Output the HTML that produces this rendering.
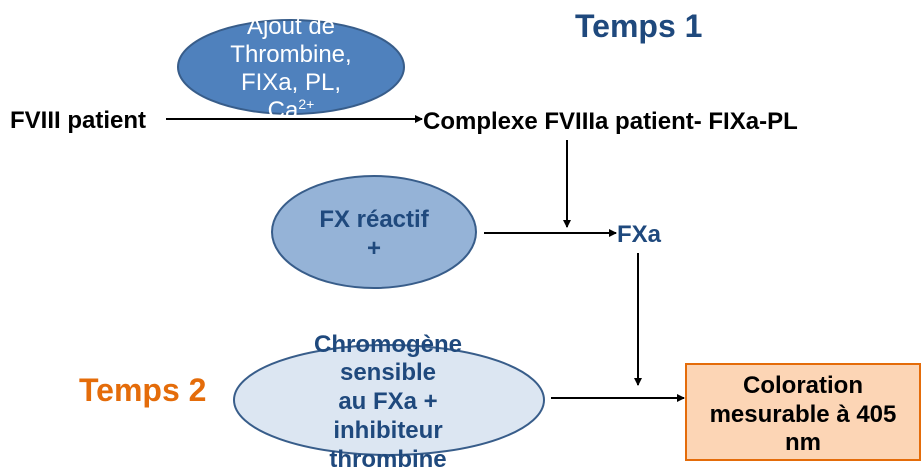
<!DOCTYPE html>
<html><head><meta charset="utf-8"><style>
html,body{margin:0;padding:0;background:#fff;}
svg{display:block;font-family:"Liberation Sans",sans-serif;}
</style></head><body>
<svg width="922" height="467" viewBox="0 0 922 467">
<defs>
<marker id="ah" markerWidth="8" markerHeight="8" refX="7" refY="4" orient="auto" markerUnits="userSpaceOnUse"><path d="M0,0 L8,4 L0,8 z" fill="#000"/></marker>
<clipPath id="c1"><rect x="170" y="10" width="250" height="108"/></clipPath>
</defs>
<g><text x="575" y="37" font-size="32" font-weight="bold" fill="#1f497d">Temps 1</text></g>
<g>
<ellipse cx="291" cy="67" rx="113" ry="47" fill="#4f81bd" stroke="#385d8a" stroke-width="2"/>
<g clip-path="url(#c1)" fill="#fff" font-size="24" text-anchor="middle">
<text x="291" y="34">Ajout de</text><text x="291" y="62">Thrombine,</text><text x="291" y="90">FIXa, PL,</text><text x="291" y="118">Ca<tspan font-size="14" dy="-9">2+</tspan></text>
</g></g>
<text x="10" y="128" font-size="24" font-weight="bold">FVIII patient</text>
<line x1="166" y1="119" x2="422" y2="119" stroke="#000" stroke-width="2" marker-end="url(#ah)"/>
<text x="423" y="129" font-size="24" font-weight="bold">Complexe FVIIIa patient- FIXa-PL</text>
<line x1="567" y1="140" x2="567" y2="227" stroke="#000" stroke-width="2" marker-end="url(#ah)"/>
<g>
<ellipse cx="374" cy="232" rx="102" ry="56" fill="#95b3d7" stroke="#385d8a" stroke-width="2"/>
<text x="374" y="227" font-size="24" font-weight="bold" fill="#1f497d" text-anchor="middle">FX réactif</text>
<text x="374" y="256" font-size="24" font-weight="bold" fill="#1f497d" text-anchor="middle">+</text>
</g>
<line x1="484" y1="233" x2="616" y2="233" stroke="#000" stroke-width="2" marker-end="url(#ah)"/>
<text x="617" y="242" font-size="24" font-weight="bold" fill="#1f497d">FXa</text>
<line x1="638" y1="253" x2="638" y2="385" stroke="#000" stroke-width="2" marker-end="url(#ah)"/>
<text x="79" y="401" font-size="32" font-weight="bold" fill="#e46c0a">Temps 2</text>
<g>
<ellipse cx="389" cy="400" rx="155" ry="55" fill="#dce6f2" stroke="#385d8a" stroke-width="2"/>
<g font-size="24" font-weight="bold" fill="#1f497d" text-anchor="middle">
<text x="388" y="352">Chromogène</text><text x="388" y="380">sensible</text><text x="388" y="409">au FXa  +</text><text x="388" y="438">inhibiteur</text><text x="388" y="467">thrombine</text>
</g></g>
<line x1="551" y1="398" x2="684" y2="398" stroke="#000" stroke-width="2" marker-end="url(#ah)"/>
<g>
<rect x="686" y="364" width="234" height="96" fill="#fcd5b5" stroke="#e46c0a" stroke-width="2"/>
<g font-size="24" font-weight="bold" text-anchor="middle">
<text x="803" y="393">Coloration</text><text x="803" y="422">mesurable à 405</text><text x="803" y="450">nm</text>
</g></g>
</svg>
</body></html>
